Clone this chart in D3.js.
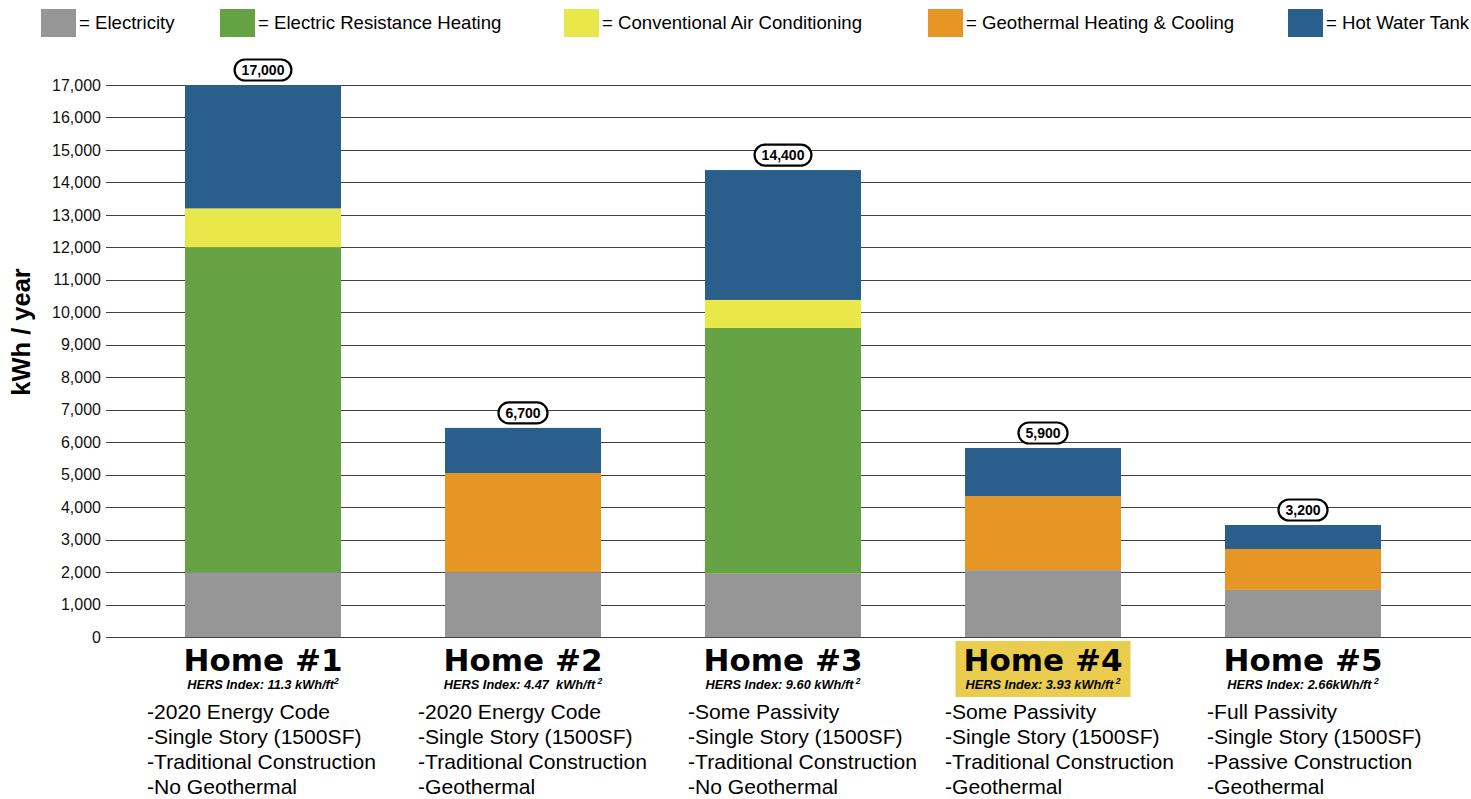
<!DOCTYPE html>
<html>
<head>
<meta charset="utf-8">
<script src="https://cdn.jsdelivr.net/npm/d3@7"></script>
<style>
  html, body { margin: 0; padding: 0; background: #fff; }
  svg { display: block; }
  text { white-space: pre; }
</style>
</head>
<body>
<svg id="chart" width="1471" height="799"></svg>
<script>
// ---- data ----
const homes = ["Home #1", "Home #2", "Home #3", "Home #4", "Home #5"];
const seriesNames = ["Electricity", "Electric Resistance Heating", "Conventional Air Conditioning", "Geothermal Heating & Cooling", "Hot Water Tank"];
const electricity = [2000, 2000, 1950, 2060, 1450];
const resistanceHeating = [10000, 0, 7570, 0, 0];
const airConditioning = [1200, 0, 860, 0, 0];
const geothermal = [0, 3050, 0, 2280, 1260];
const hotWaterTank = [3800, 1390, 4000, 1480, 740];
const totalLabels = ["17,000", "6,700", "14,400", "5,900", "3,200"];
const hersLabels = ["HERS Index: 11.3 kWh/ft", "HERS Index: 4.47  kWh/ft", "HERS Index: 9.60 kWh/ft", "HERS Index: 3.93 kWh/ft", "HERS Index: 2.66kWh/ft"];
const hersSup = ["2", " 2", " 2", " 2", " 2"];
const bullets = [
  ["-2020 Energy Code", "-Single Story (1500SF)", "-Traditional Construction", "-No Geothermal"],
  ["-2020 Energy Code", "-Single Story (1500SF)", "-Traditional Construction", "-Geothermal"],
  ["-Some Passivity", "-Single Story (1500SF)", "-Traditional Construction", "-No Geothermal"],
  ["-Some Passivity", "-Single Story (1500SF)", "-Traditional Construction", "-Geothermal"],
  ["-Full Passivity", "-Single Story (1500SF)", "-Passive Construction", "-Geothermal"]
];
const highlighted = "Home #4";
const yTicks = d3.range(0, 17001, 1000);
const yTitle = "kWh / year";

// ---- styles / layout ----
const colors = ["#969696", "#65a243", "#e8e84a", "#e69624", "#2a5f8c"];
const legendX = [41, 220, 564, 928, 1288];
const bulletOffset = [-116, -105, -95, -98, -96];

const svg = d3.select("#chart");
const sansFont = "'Liberation Sans', Arial, Helvetica, sans-serif";

const y = d3.scaleLinear().domain([0, 17000]).range([637, 85]);
const x = d3.scaleBand().domain(homes).range([133, 1433]).paddingInner(0.4).paddingOuter(0.2);

// rows for stack
const rows = homes.map((h, i) => ({
  home: h,
  "Electricity": electricity[i],
  "Electric Resistance Heating": resistanceHeating[i],
  "Conventional Air Conditioning": airConditioning[i],
  "Geothermal Heating & Cooling": geothermal[i],
  "Hot Water Tank": hotWaterTank[i]
}));
const stack = d3.stack().keys(seriesNames)(rows);
const color = d3.scaleOrdinal().domain(seriesNames).range(colors);

// ---- grid + y axis ----
const yAxis = d3.axisLeft(y).tickValues(yTicks).tickSize(0).tickPadding(5)
  .tickFormat(d3.format(","));
const gAxis = svg.append("g").attr("transform", "translate(106,0)").call(yAxis);
gAxis.select(".domain").remove();
gAxis.selectAll("text").attr("font-family", sansFont).attr("font-size", 16).attr("fill", "#111");

svg.append("g").selectAll("line").data(yTicks).join("line")
  .attr("x1", 106).attr("x2", 1471)
  .attr("y1", d => Math.round(y(d)) + 0.5).attr("y2", d => Math.round(y(d)) + 0.5)
  .attr("stroke", "#404040").attr("stroke-width", 1.2);

svg.append("text")
  .attr("transform", "translate(30,332) rotate(-90)")
  .attr("text-anchor", "middle")
  .attr("font-family", sansFont).attr("font-weight", "bold").attr("font-size", 25.5)
  .attr("fill", "#000")
  .text(yTitle);

// ---- bars ----
svg.append("g").selectAll("g").data(stack).join("g")
  .attr("fill", d => color(d.key))
  .selectAll("rect").data(d => d).join("rect")
  .attr("x", d => x(d.data.home))
  .attr("width", x.bandwidth())
  .attr("y", d => y(d[1]))
  .attr("height", d => y(d[0]) - y(d[1]));

// ---- total pills ----
const topOf = homes.map((h, i) => electricity[i] + resistanceHeating[i] + airConditioning[i] + geothermal[i] + hotWaterTank[i]);
const pills = svg.append("g").selectAll("g").data(homes).join("g")
  .attr("transform", (h, i) => `translate(${x(h) + x.bandwidth() / 2},${y(topOf[i]) - 15})`);
pills.append("rect").attr("class", "pill");
pills.append("text")
  .attr("text-anchor", "middle").attr("dy", "0.36em")
  .attr("font-family", sansFont).attr("font-weight", "bold").attr("font-size", 14)
  .attr("fill", "#000")
  .text((h, i) => totalLabels[i]);
pills.each(function () {
  const g = d3.select(this);
  const w = g.select("text").node().getComputedTextLength() + 14;
  g.select("rect").attr("x", -w / 2).attr("y", -10.5).attr("width", w).attr("height", 21)
    .attr("rx", 10.5).attr("fill", "#fff").attr("stroke", "#000").attr("stroke-width", 2.2);
});

// ---- category labels ----
const cat = svg.append("g").selectAll("g").data(homes).join("g")
  .attr("transform", h => `translate(${x(h) + x.bandwidth() / 2},0)`);
cat.filter(h => h === highlighted).append("rect")
  .attr("x", -87.5).attr("width", 175).attr("y", 641).attr("height", 56)
  .attr("fill", "#eacc4f");
cat.append("text")
  .attr("text-anchor", "middle").attr("y", 671)
  .attr("font-family", "'DejaVu Sans', Verdana, sans-serif").attr("font-weight", "bold").attr("font-size", 31)
  .attr("fill", "#000")
  .text(h => h);
const hers = cat.append("text")
  .attr("text-anchor", "middle").attr("y", 689)
  .attr("font-family", sansFont).attr("font-weight", "bold").attr("font-style", "italic").attr("font-size", 12.8)
  .attr("fill", "#000");
hers.append("tspan").text((h, i) => hersLabels[i]);
hers.append("tspan").attr("dy", -5).attr("font-size", 8.5).text((h, i) => hersSup[i]);

cat.each(function (h, i) {
  d3.select(this).selectAll("text.bullet").data(bullets[i]).join("text")
    .attr("class", "bullet")
    .attr("x", bulletOffset[i])
    .attr("y", (d, j) => 719 + j * 25)
    .attr("font-family", sansFont).attr("font-size", 21.1).attr("fill", "#000")
    .text(d => d);
});

// ---- legend ----
const leg = svg.append("g").selectAll("g").data(seriesNames).join("g")
  .attr("transform", (d, i) => `translate(${legendX[i]},0)`);
leg.append("rect").attr("y", 9).attr("width", 35).attr("height", 28).attr("fill", d => color(d));
leg.append("text").attr("x", 38).attr("y", 29)
  .attr("font-family", sansFont).attr("font-size", 18.6).attr("fill", "#000")
  .text(d => "= " + d);
</script>
</body>
</html>
